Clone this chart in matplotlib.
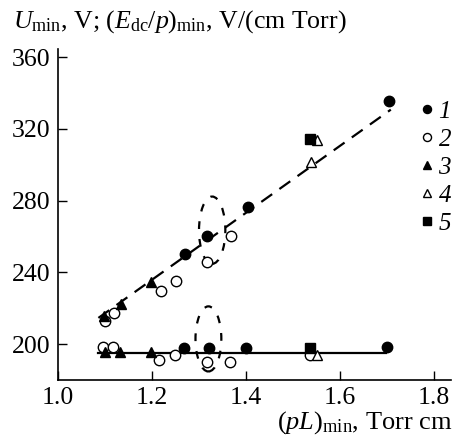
import matplotlib
matplotlib.use("Agg")
import matplotlib.pyplot as plt
from matplotlib.lines import Line2D
from matplotlib.patches import Ellipse

plt.rcParams["font.family"] = ["Liberation Serif", "DejaVu Serif"]
plt.rcParams["mathtext.fontset"] = "custom"
plt.rcParams["mathtext.rm"] = "Liberation Serif"
plt.rcParams["mathtext.it"] = "Liberation Serif:italic"

# (pL)_min and U_min / (E_dc/p)_min values for each data set
s1_upper_x = [1.272, 1.319, 1.406, 1.706]
s1_upper_y = [250.3, 260.4, 276.7, 335.7]
s1_lower_x = [1.270, 1.323, 1.402, 1.701]
s1_lower_y = [197.7, 197.7, 197.8, 198.6]

s2_upper_x = [1.101, 1.121, 1.221, 1.252, 1.318, 1.370]
s2_upper_y = [212.9, 217.6, 229.7, 235.2, 245.7, 260.0]
s2_lower_x = [1.096, 1.118, 1.216, 1.249, 1.317, 1.367, 1.538]
s2_lower_y = [198.2, 198.2, 191.2, 194.0, 189.9, 189.9, 194.0]

s3_upper_x = [1.099, 1.136, 1.199]
s3_upper_y = [215.7, 222.4, 234.9]
s3_lower_x = [1.101, 1.134, 1.199]
s3_lower_y = [195.8, 195.8, 195.8]

s4_upper_x = [1.540, 1.551]
s4_upper_y = [301.3, 313.9]
s4_lower_x = [1.551]
s4_lower_y = [194.0]

s5_x = [1.538, 1.538]
s5_y = [314.2, 198.0]

# trend lines
upper_fit_x = [1.087, 1.709]
upper_fit_y = [214.6, 330.7]
lower_fit_x = [1.087, 1.698]
lower_fit_y = [194.9, 194.9]

# dashed ovals: (center x, center y, width, height)
oval_upper = (1.329, 263.5, 0.056, 37.5)
oval_lower = (1.321, 202.9, 0.055, 36.3)

legend_labels = ["1", "2", "3", "4", "5"]
x_ticks = [1.0, 1.2, 1.4, 1.6, 1.8]
y_ticks = [200, 240, 280, 320, 360]

W, H = 454, 448
fig = plt.figure(figsize=(W / 100, H / 100), dpi=100)
left, right, bottom, top = 57.5, 451, 380, 49
ax = fig.add_axes([left / W, (H - bottom) / H, (right - left) / W, (bottom - top) / H])

ax.plot(upper_fit_x, upper_fit_y, color="black", lw=1.6, ls=(0, (6, 4)), zorder=2)
ax.plot(lower_fit_x, lower_fit_y, color="black", lw=1.6, ls="-", zorder=2)

for cx, cy, w, h in (oval_upper, oval_lower):
    ax.add_patch(Ellipse((cx, cy), w, h, fill=False, ec="black", lw=1.6,
                         ls=(0, (3.5, 4.5)), zorder=2))

ms = 7.5
open_kw = dict(ls="none", mfc="white", mec="black", mew=1.0, ms=ms, zorder=3)
fill_kw = dict(ls="none", color="black", ms=ms, zorder=4)

ax.plot(s2_upper_x, s2_upper_y, "o", **open_kw)
ax.plot(s2_lower_x, s2_lower_y, "o", **open_kw)
ax.plot(s4_upper_x, s4_upper_y, "^", **open_kw)
ax.plot(s4_lower_x, s4_lower_y, "^", **open_kw)
ax.plot(s1_upper_x, s1_upper_y, "o", **fill_kw)
ax.plot(s1_lower_x, s1_lower_y, "o", **fill_kw)
ax.plot(s3_upper_x, s3_upper_y, "^", **fill_kw)
ax.plot(s3_lower_x, s3_lower_y, "^", **fill_kw)
ax.plot(s5_x, s5_y, "s", ms=6.6, color="black", ls="none", zorder=5)

ax.set_xlim(1.0, 1.837)
ax.set_ylim(180, 364.5)
ax.set_xticks(x_ticks)
ax.set_xticklabels([f"{v:.1f}" for v in x_ticks])
ax.set_yticks(y_ticks)
ax.tick_params(direction="in", length=6.5, width=1.0, labelsize=18.5, pad=5)
for side in ("top", "right"):
    ax.spines[side].set_visible(False)
for side in ("left", "bottom"):
    ax.spines[side].set_linewidth(1.2)

lms = 5.8
handles = [
    Line2D([], [], marker="o", ls="none", color="black", ms=lms),
    Line2D([], [], marker="o", ls="none", mfc="white", mec="black", mew=1.0, ms=lms),
    Line2D([], [], marker="^", ls="none", color="black", ms=lms),
    Line2D([], [], marker="^", ls="none", mfc="white", mec="black", mew=1.0, ms=lms),
    Line2D([], [], marker="s", ls="none", color="black", ms=lms - 0.6),
]
leg = ax.legend(handles, legend_labels, loc="upper left",
                bbox_to_anchor=((421 - left) / (right - left), (bottom - 100) / (bottom - top)),
                frameon=False, handlelength=0.45, handletextpad=0.25, labelspacing=0.22,
                borderpad=0, borderaxespad=0,
                prop={"family": "Liberation Serif", "style": "italic", "size": 18})

fig.text(13 / W, 1 - 28 / H,
         r"$U_{\rm min}$, V; $(E_{\rm dc}/p)_{\rm min}$, V/(cm Torr)",
         fontsize=18.6, ha="left", va="baseline")
fig.text(452 / W, 1 - 429 / H, r"$(pL)_{\rm min}$, Torr cm",
         fontsize=19, ha="right", va="baseline")

fig.savefig("out.png", dpi=100)
